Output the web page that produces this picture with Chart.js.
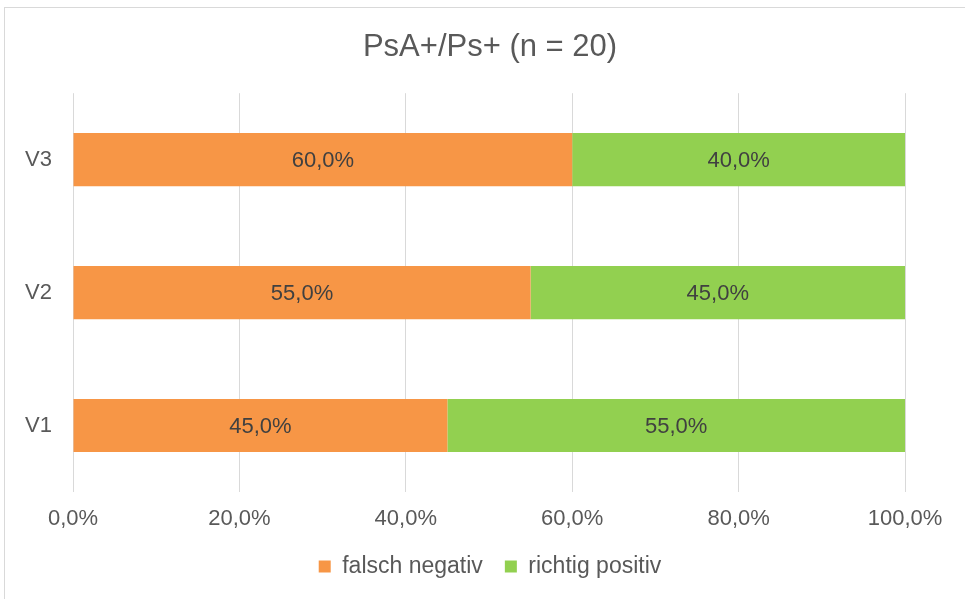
<!DOCTYPE html>
<html>
<head>
    <title>PsA+/Ps+ (n = 20)</title>
    <script src="https://cdn.jsdelivr.net/npm/chart.js"></script>
    <style>
        body { margin: 0; background: #fff; overflow: hidden; }
        #frame { position: absolute; left: 4px; top: 7px; width: 1100px; height: 800px; border: 1px solid #d9d9d9; }
        #wrap { position: absolute; left: 0; top: 0; width: 965px; height: 599px; }
    </style>
</head>
<body>
    <div id="frame"></div>
    <div id="wrap"><canvas id="chart"></canvas></div>

    <script>
        // Werte aus der Abbildung (in Prozent)
        var categories = ['V1', 'V2', 'V3'];
        var falschNegativ = [45, 55, 60];
        var richtigPositiv = [55, 45, 40];
        var xTicks = [0, 20, 40, 60, 80, 100];

        var FONT = '"Liberation Sans", Arial, sans-serif';

        function pct(v) {
            return v.toFixed(1).replace('.', ',') + '%';
        }

        // Beschriftung mittig im Balken
        var barLabels = {
            id: 'barLabels',
            afterDatasetsDraw: function(chart) {
                var ctx = chart.ctx;
                ctx.save();
                ctx.font = '22px ' + FONT;
                ctx.fillStyle = '#404040';
                ctx.textAlign = 'center';
                ctx.textBaseline = 'middle';
                chart.data.datasets.forEach(function(ds, i) {
                    chart.getDatasetMeta(i).data.forEach(function(bar, j) {
                        var p = bar.getCenterPoint();
                        ctx.fillText(pct(ds.data[j]), p.x, p.y + 1);
                    });
                });
                ctx.restore();
            }
        };

        // Titel und Legende über die ganze Breite zentrieren
        var centerBlocks = {
            id: 'centerBlocks',
            afterLayout: function(chart) {
                [chart.titleBlock, chart.legend].forEach(function(b) {
                    if (b) { b.left = 15; b.right = chart.width; }
                });
            }
        };

        var ctx = document.getElementById('chart').getContext('2d');
        new Chart(ctx, {
            type: 'bar',
            data: {
                labels: categories,
                datasets: [{
                    label: 'falsch negativ',
                    data: falschNegativ,
                    backgroundColor: '#F79646'
                }, {
                    label: 'richtig positiv',
                    data: richtigPositiv,
                    backgroundColor: '#92D050'
                }]
            },
            plugins: [barLabels, centerBlocks],
            options: {
                indexAxis: 'y',
                responsive: true,
                maintainAspectRatio: false,
                animation: false,
                datasets: {
                    bar: { categoryPercentage: 1, barPercentage: 0.4 }
                },
                layout: {
                    padding: { left: 15, right: 60, top: 20, bottom: 11 }
                },
                plugins: {
                    title: {
                        display: true,
                        text: 'PsA+/Ps+ (n = 20)',
                        color: '#595959',
                        font: { family: FONT, size: 31, weight: 'normal' },
                        padding: { top: 9, bottom: 27 }
                    },
                    legend: {
                        position: 'bottom',
                        labels: {
                            color: '#595959',
                            font: { family: FONT, size: 23 },
                            boxWidth: 12,
                            boxHeight: 12,
                            padding: 22
                        }
                    },
                    tooltip: { enabled: false }
                },
                scales: {
                    x: {
                        stacked: true,
                        min: 0,
                        max: 100,
                        afterBuildTicks: function(axis) {
                            axis.ticks = xTicks.map(function(v) { return { value: v }; });
                        },
                        afterFit: function(axis) { axis.height = 41; },
                        border: { display: false },
                        grid: { color: '#d9d9d9', drawTicks: false },
                        ticks: {
                            color: '#595959',
                            padding: 14,
                            font: { family: FONT, size: 22 },
                            callback: function(v) { return pct(v); }
                        }
                    },
                    y: {
                        stacked: true,
                        reverse: true,
                        afterFit: function(axis) { axis.width = 58; },
                        border: { display: false },
                        grid: { display: false, drawTicks: false },
                        ticks: {
                            color: '#595959',
                            padding: 21,
                            font: { family: FONT, size: 22 }
                        }
                    }
                }
            }
        });
    </script>
</body>
</html>
